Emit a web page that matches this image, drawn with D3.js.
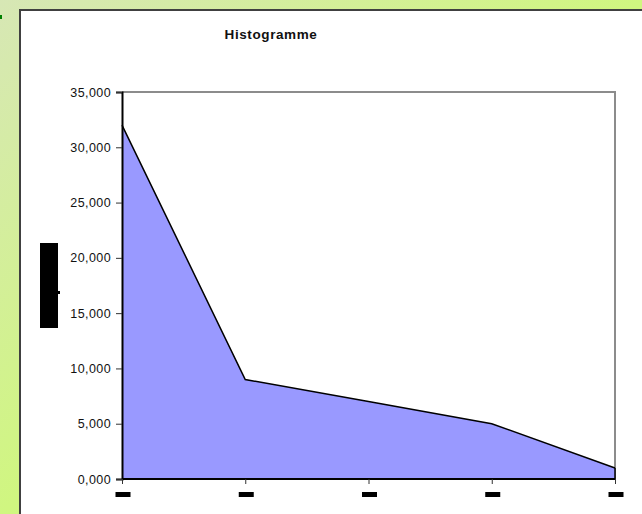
<!DOCTYPE html>
<html><head><meta charset="utf-8">
<script src="https://cdn.jsdelivr.net/npm/d3@7"></script>
<style>body{margin:0;padding:0;overflow:hidden}svg{display:block}</style>
</head><body>
<script>
const categories = ["1","2","3","4","5"];
const values = [32000, 9000, 7000, 5000, 1000];
const yTicks = [0, 5000, 10000, 15000, 20000, 25000, 30000, 35000];
const yTickLabels = ["0,000","5,000","10,000","15,000","20,000","25,000","30,000","35,000"];
const title = "Histogramme";

(function(){
const W = 642, H = 514;
const svg = d3.select("body").append("svg").attr("width", W).attr("height", H);
const defs = svg.append("defs");
const g = defs.append("linearGradient").attr("id","bg").attr("x1","0").attr("y1","0").attr("x2","1").attr("y2","1");
g.append("stop").attr("offset","0").attr("stop-color","#d7e7b5");
g.append("stop").attr("offset","0.5").attr("stop-color","#d0f680");
g.append("stop").attr("offset","1").attr("stop-color","#c8ff5c");
svg.append("rect").attr("width",W).attr("height",H).attr("fill","url(#bg)");
svg.append("rect").attr("x",0).attr("y",15).attr("width",2).attr("height",4).attr("fill","#008000");

svg.append("rect").attr("x",20).attr("y",10).attr("width",W).attr("height",H).attr("fill","#fff")
  .attr("stroke","#404040").attr("stroke-width",2);

svg.append("text").attr("x",271).attr("y",39).attr("text-anchor","middle")
  .attr("font-family","Liberation Sans, Arial, sans-serif").attr("font-weight","bold")
  .attr("font-size",13.5).attr("letter-spacing",0.6).attr("fill","#111").text(title);

const pl = 122, pr = 615, pt = 92, pb = 479;
const x = d3.scalePoint().domain(categories).range([pl, pr]);
const y = d3.scaleLinear().domain([0, 35000]).range([pb, pt]);

svg.append("path").attr("d",`M${pl},${pt}H${pr}V${pb}`).attr("fill","none")
  .attr("stroke","#8c8c8c").attr("stroke-width",2);

const area = d3.area().x((d,i)=>x(categories[i])).y0(y(0)).y1(d=>y(d));
svg.append("path").datum(values).attr("d",area).attr("fill","#9999ff");
const line = d3.line().x((d,i)=>x(categories[i])).y(d=>y(d));
svg.append("path").datum(values).attr("d",line).attr("fill","none").attr("stroke","#000").attr("stroke-width",1.5);
svg.append("line").attr("x1",pr).attr("x2",pr).attr("y1",y(values[values.length-1])).attr("y2",pb).attr("stroke","#000").attr("stroke-width",1.5);

const yAxis = d3.axisLeft(y).tickValues(yTicks).tickSize(6).tickPadding(5)
  .tickFormat((v,i) => yTickLabels[i]);
const ya = svg.append("g").attr("transform",`translate(${pl},0)`).call(yAxis);
ya.select(".domain").attr("stroke","#000").attr("stroke-width",2);
ya.selectAll(".tick line").attr("stroke","#333");
ya.selectAll("text").attr("font-family","Liberation Sans, Arial, sans-serif").attr("font-size",12.5)
  .attr("letter-spacing",0.4).attr("fill","#111");

const xAxis = d3.axisBottom(x).tickSize(5).tickFormat("");
const xa = svg.append("g").attr("transform",`translate(0,${pb})`).call(xAxis);
xa.select(".domain").attr("d",`M${pl},0H${pr}`).attr("stroke","#000").attr("stroke-width",2);
xa.selectAll(".tick line").attr("stroke","#333");
xa.selectAll(".tick").append("rect").attr("x",-7).attr("y",13).attr("width",15).attr("height",5).attr("fill","#000");

svg.append("rect").attr("x",40).attr("y",243).attr("width",18).attr("height",85).attr("fill","#000");
svg.append("rect").attr("x",58).attr("y",291).attr("width",2).attr("height",3).attr("fill","#000");
})();
</script>
</body></html>
